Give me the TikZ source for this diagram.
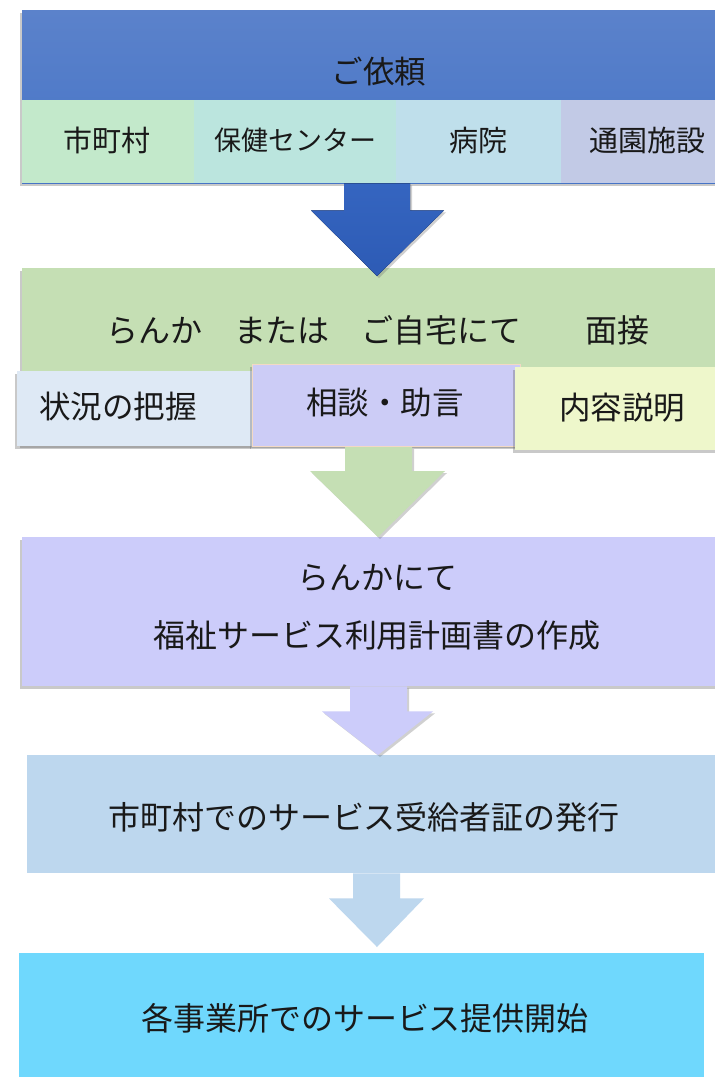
\documentclass[tikz,border=0pt]{standalone}
\usepackage{fontspec}
\newfontfamily\cjk{Noto Sans CJK JP}
\usetikzlibrary{shadows,calc}
\definecolor{bxA}{HTML}{4674C6}
\definecolor{bxAtop}{HTML}{5B82CB}
\definecolor{cA}{HTML}{C3E9CB}
\definecolor{cB}{HTML}{BBE5DE}
\definecolor{cC}{HTML}{BFDFEB}
\definecolor{cD}{HTML}{C2CAE6}
\definecolor{arA}{HTML}{3565C0}
\definecolor{arAb}{HTML}{2D5BB5}
\definecolor{bxB}{HTML}{C5DFB4}
\definecolor{cE}{HTML}{DEE9F5}
\definecolor{cF}{HTML}{CCCCF6}
\definecolor{cFb}{HTML}{F3D9C4}
\definecolor{cG}{HTML}{EEF7CB}
\definecolor{bxC}{HTML}{CCCCFA}
\definecolor{bxD}{HTML}{BDD7EE}
\definecolor{bxE}{HTML}{6FD8FD}
\begin{document}
\begin{tikzpicture}[x=1pt,y=-1pt,
  box/.style={rectangle,anchor=north west,inner sep=0pt,draw=none},
  shad/.style={drop shadow={shadow xshift=-2pt,shadow yshift=-3pt,opacity=0.35,fill=black!60}},
  lbl/.style={inner sep=0pt,font=\cjk\fontsize{32}{38}\selectfont,text=black!90,align=center},
  slbl/.style={inner sep=0pt,font=\cjk\fontsize{27}{32}\selectfont,text=black!90},
  mlbl/.style={inner sep=0pt,font=\cjk\fontsize{29}{34}\selectfont,text=black!90},
  rlbl/.style={inner sep=0pt,font=\cjk\fontsize{31.5}{36}\selectfont,text=black!90},
  arrshad/.style={drop shadow={shadow xshift=2pt,shadow yshift=-2pt,opacity=0.3,fill=black!60}}
]
\useasboundingbox (0,0) rectangle (715,1077);
\fill[white] (0,0) rectangle (715,1077);

% ---- box 1
\node[box,shad,top color=bxAtop,bottom color=bxA,minimum width=700pt,minimum height=173pt] (b1) at (22,10) {};
\node[rlbl] (t1) at (379,72) {ご依頼};
\node[box,fill=cA,minimum width=172pt,minimum height=83pt] (c1) at (22,100) {};
\node[box,fill=cB,minimum width=202pt,minimum height=83pt] (c2) at (194,100) {};
\node[box,fill=cC,minimum width=165pt,minimum height=83pt] (c3) at (396,100) {};
\node[box,fill=cD,minimum width=160pt,minimum height=83pt] (c4) at (561,100) {};
\node[mlbl] at (107,140) {市町村};
\node[slbl] at (295,140) {保健センター};
\node[mlbl] at (478,140) {病院};
\node[mlbl] at (647,140) {通園施設};

% ---- box 2
\node[box,shad,fill=bxB,minimum width=700pt,minimum height=177pt] (b2) at (22,268) {};
\node[lbl] (t2) at (378,330) {らんか　または　ご自宅にて　　面接};
\node[box,shad,fill=cE,minimum width=236pt,minimum height=75pt] (c5) at (17,371) {};
\node[box,shad,fill=cF,draw=cFb,line width=0.8pt,minimum width=268pt,minimum height=82pt] (c6) at (252,364) {};
\node[box,shad,fill=cG,minimum width=210pt,minimum height=83pt] (c7) at (515,367) {};
\node[rlbl] at (118,407) {状況の把握};
\node[rlbl] at (385,403) {相談・助言};
\node[rlbl] at (622,408) {内容説明};

% ---- box 3
\node[box,shad,fill=bxC,minimum width=700pt,minimum height=149pt] (b3) at (22,537) {};
\node[lbl] (t3a) at (377,578) {らんかにて};
\node[lbl] (t3b) at (377,635) {福祉サービス利用計画書の作成};

% ---- box 4
\node[box,fill=bxD,minimum width=700pt,minimum height=118pt] (b4) at (27,755) {};
\node[lbl] (t4) at (364,817) {市町村でのサービス受給者証の発行};

% ---- box 5
\node[box,fill=bxE,minimum width=685pt,minimum height=124pt] (b5) at (19,953) {};
\node[lbl] (t5) at (365,1018) {各事業所でのサービス提供開始};

% ---- block arrows
\coordinate (a1s) at (b1.south -| 377,0);
\coordinate (a1t) at (377,276);
\fill[arrshad,top color=arA,bottom color=arAb]
  ($(a1s)+(-33,0)$) -- ($(a1s)+(-33,27)$) -- ($(a1s)+(-66,27)$) -- (a1t)
  -- ($(a1s)+(67,27)$) -- ($(a1s)+(33,27)$) -- ($(a1s)+(33,0)$) -- cycle;

\coordinate (a2s) at (378,447);
\coordinate (a2t) at (b3.north -| 378,0);
\fill[arrshad,fill=bxB]
  ($(a2s)+(-33,0)$) -- ($(a2s)+(-33,24)$) -- ($(a2s)+(-68,24)$) -- (a2t)
  -- ($(a2s)+(67,24)$) -- ($(a2s)+(34,24)$) -- ($(a2s)+(34,0)$) -- cycle;

\coordinate (a3s) at (b3.south -| 378,0);
\coordinate (a3t) at (b4.north -| 378,0);
\fill[arrshad,fill=bxC]
  ($(a3s)+(-28,0)$) -- ($(a3s)+(-28,25)$) -- ($(a3s)+(-56,25)$) -- (a3t)
  -- ($(a3s)+(55,25)$) -- ($(a3s)+(29,25)$) -- ($(a3s)+(29,0)$) -- cycle;

\coordinate (a4s) at (b4.south -| 377,0);
\coordinate (a4t) at (377,947);
\fill[fill=bxD]
  ($(a4s)+(-24,0)$) -- ($(a4s)+(-24,25)$) -- ($(a4s)+(-48,25)$) -- (a4t)
  -- ($(a4s)+(47,25)$) -- ($(a4s)+(23,25)$) -- ($(a4s)+(23,0)$) -- cycle;
\end{tikzpicture}
\end{document}
